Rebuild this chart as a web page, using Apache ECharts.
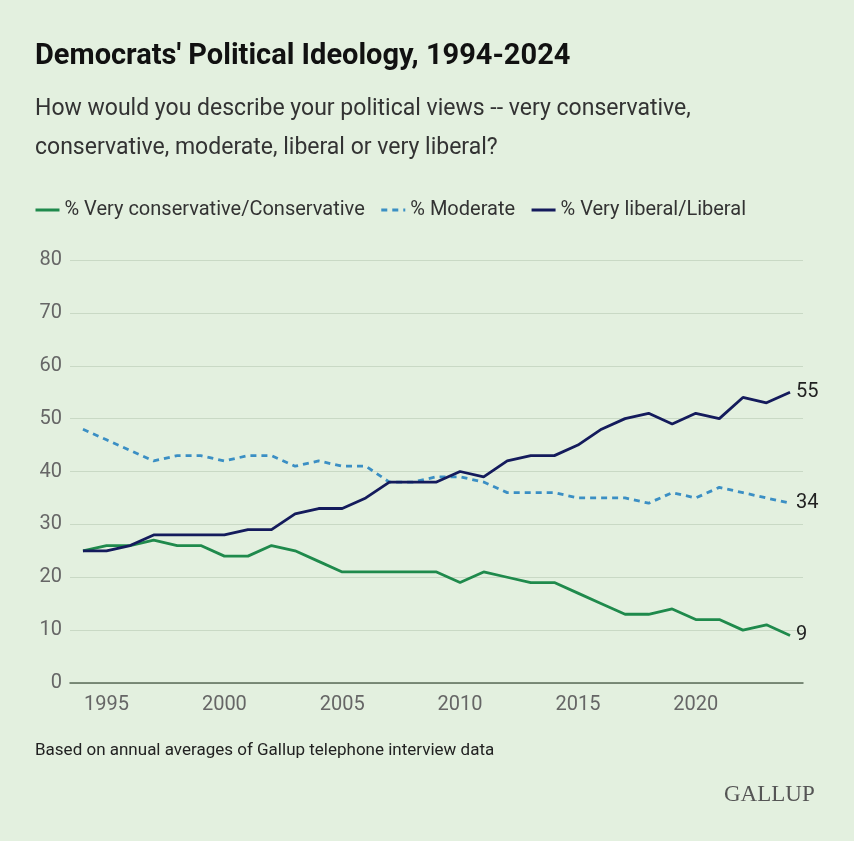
<!DOCTYPE html>
<html>
<head>
<meta charset="utf-8">
<script src="https://cdn.jsdelivr.net/npm/echarts@6/dist/echarts.min.js"></script>
<style>
html,body{margin:0;padding:0;background:#e3f0df;}
#chart{width:854px;height:841px;}
</style>
</head>
<body>
<div id="chart"></div>
<script>
const years = [1994,1995,1996,1997,1998,1999,2000,2001,2002,2003,2004,2005,2006,2007,2008,2009,2010,2011,2012,2013,2014,2015,2016,2017,2018,2019,2020,2021,2022,2023,2024];
const conservative = [25,26,26,27,26,26,24,24,26,25,23,21,21,21,21,21,19,21,20,19,19,17,15,13,13,14,12,12,10,11,9];
const moderate = [48,46,44,42,43,43,42,43,43,41,42,41,41,38,38,39,39,38,36,36,36,35,35,35,34,36,35,37,36,35,34];
const liberal = [25,25,26,28,28,28,28,29,29,32,33,33,35,38,38,38,40,39,42,43,43,45,48,50,51,49,51,50,54,53,55];
const xTickLabels = [1995,2000,2005,2010,2015,2020];
const yTickLabels = [0,10,20,30,40,50,60,70,80];

const seriesNames = ['% Very conservative/Conservative','% Moderate','% Very liberal/Liberal'];
const FONT = 'Roboto, "Noto Sans", sans-serif';

const chart = echarts.init(document.getElementById('chart'), null, {renderer:'canvas'});
function pairs(vals){ return years.map((y,i)=>[y, vals[i]]); }
function mkSeries(name, vals, color, type){
  return {
    name: name, type: 'line', data: pairs(vals), symbol: 'none',
    lineStyle: {color: color, width: 2.8, type: type},
    itemStyle: {color: color},
    endLabel: {show: true, formatter: p => String(p.value[1]), color: '#222', fontSize: 20, fontFamily: FONT, distance: 6},
    emphasis: {disabled: true},
    animation: false
  };
}
chart.setOption({
  backgroundColor: '#e3f0df',
  textStyle: {fontFamily: FONT},
  title: [
    {text: "Democrats' Political Ideology, 1994-2024", left: 35, top: 42, padding: 0,
     textStyle: {fontSize: 29, fontWeight: 'bold', color: '#111', fontFamily: FONT}},
    {text: 'How would you describe your political views -- very conservative,\nconservative, moderate, liberal or very liberal?', left: 35, top: 90, padding: 0,
     textStyle: {fontSize: 23, fontWeight: 'normal', color: '#333', lineHeight: 39, fontFamily: FONT}},
    {text: 'Based on annual averages of Gallup telephone interview data', left: 35, top: 742, padding: 0,
     textStyle: {fontSize: 17, fontWeight: 'normal', color: '#222', fontFamily: FONT}},
    {text: 'GALLUP', left: 724, top: 783, padding: 0,
     textStyle: {fontSize: 23, fontWeight: 'normal', color: '#555', fontFamily: '"Liberation Serif", "DejaVu Serif", serif'}}
  ],
  legend: {
    show: true, orient: 'horizontal', left: 34, top: 200, padding: 0, itemGap: 15, itemWidth: 24, itemHeight: 14,
    data: seriesNames,
    itemStyle: {opacity: 0},
    lineStyle: {width: 3},
    textStyle: {fontSize: 20, color: '#333', fontFamily: FONT}
  },
  grid: {left: 70, right: 51, top: 260, bottom: 158, containLabel: false},
  xAxis: {
    type: 'value', min: 1993.45, max: 2024.55,
    axisLine: {show: true, lineStyle: {color: '#5b6b58', width: 1.5}},
    axisTick: {show: false},
    splitLine: {show: false},
    axisLabel: {customValues: xTickLabels, formatter: v => String(v), color: '#666', fontSize: 20, margin: 12, fontFamily: FONT}
  },
  yAxis: {
    type: 'value', min: 0, max: 80, interval: 10,
    axisLine: {show: false}, axisTick: {show: false},
    splitLine: {lineStyle: {color: '#c9d9c5', width: 1.2}},
    axisLabel: {formatter: v => yTickLabels.includes(v) ? String(v) : '', color: '#666', fontSize: 20, margin: 8, fontFamily: FONT}
  },
  series: [
    mkSeries(seriesNames[0], conservative, '#1f8a4c', 'solid'),
    mkSeries(seriesNames[1], moderate, '#3b8fc4', [6,5]),
    mkSeries(seriesNames[2], liberal, '#141b5c', 'solid')
  ],
  animation: false
});
</script>
</body>
</html>
